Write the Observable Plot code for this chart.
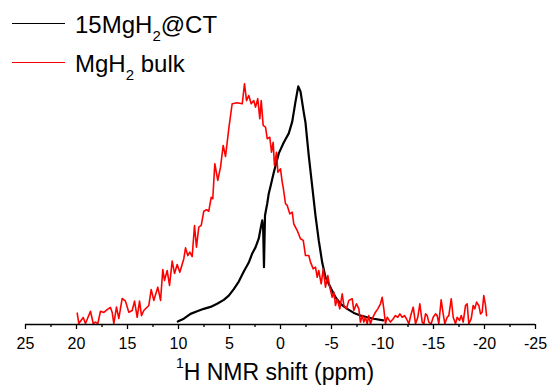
<!DOCTYPE html>
<html>
<head>
<meta charset="utf-8">
<script src="https://cdn.jsdelivr.net/npm/d3@7"></script>
<script src="https://cdn.jsdelivr.net/npm/@observablehq/plot@0.6"></script>
<style>
  body { margin: 0; background: white; font-family: "Liberation Sans", Arial, sans-serif; color: black; }
  #wrap { width: 550px; height: 385px; position: relative; overflow: hidden; }
  #legend { position: relative; height: 75px; }
  .sw { position: absolute; left: 12px; width: 53px; height: 1.6px; }
  .lt { position: absolute; left: 75px; font-size: 24px; line-height: 24px; white-space: nowrap; }
  .lt sub { font-size: 15px; vertical-align: -8px; line-height: 0; }
  #title { position: absolute; left: 0; width: 550px; top: 360.5px; text-align: center; font-size: 23px; line-height: 23px; white-space: nowrap; }
  #title sup { font-size: 14px; vertical-align: 12px; line-height: 0; }
  svg { display: block; }
</style>
</head>
<body>
<div id="wrap">
  <div id="legend"></div>
  <div id="chart"></div>
  <div id="title"><sup>1</sup>H NMR shift (ppm)</div>
</div>
<script>
// Series names / colours
const seriesNames = ["15MgH2@CT", "MgH2 bulk"];
const seriesColors = ["#000000", "#ff0000"];

// x axis ticks (ppm)
const majorTicks = [25, 20, 15, 10, 5, 0, -5, -10, -15, -20, -25];
const minorTicks = [22.5, 17.5, 12.5, 7.5, 2.5, -2.5, -7.5, -12.5, -17.5, -22.5];

// 15MgH2@CT spectrum: [ppm, normalized intensity]
const ctSpectrum = [
  [10.07,0.012],[9.48,0.024],[8.82,0.044],[8.17,0.055],[7.52,0.065],[6.86,0.073],
  [6.21,0.086],[5.56,0.102],[5.07,0.120],[4.58,0.147],[4.09,0.178],[3.60,0.220],
  [3.11,0.257],[2.77,0.295],[2.45,0.320],[2.13,0.357],[1.91,0.407],[1.79,0.432],
  [1.70,0.398],[1.62,0.238],[1.52,0.452],[1.30,0.502],[1.15,0.544],[0.98,0.573],
  [0.66,0.631],[0.17,0.710],[-0.32,0.755],[-0.81,0.793],[-1.15,0.842],[-1.47,0.925],
  [-1.74,0.988],[-1.96,0.967],[-2.28,0.880],[-2.45,0.838],[-2.77,0.701],[-3.11,0.573],
  [-3.43,0.452],[-3.75,0.349],[-4.09,0.257],[-4.41,0.196],[-4.90,0.154],[-5.39,0.113],
  [-5.88,0.086],[-6.54,0.065],[-7.19,0.048],[-7.84,0.037],[-8.50,0.030],[-9.15,0.024],
  [-10.07,0.017]
];

// MgH2 bulk spectrum: [ppm, normalized intensity]
const bulkSpectrum = [
  [19.93,0.047],[19.77,0.004],[19.34,0.029],[19.12,0.004],[18.63,0.055],[18.36,0.004],
  [18.14,0.010],[17.91,0.004],[17.65,0.055],[17.32,0.050],[16.99,0.062],[16.67,0.071],
  [16.50,0.050],[16.34,0.004],[16.08,0.072],[15.85,0.025],[15.52,0.108],[15.20,0.097],
  [14.87,0.051],[14.54,0.058],[14.31,0.097],[14.05,0.030],[13.82,0.097],[13.63,0.037],
  [13.40,0.058],[12.91,0.079],[12.68,0.145],[12.42,0.100],[12.03,0.155],[11.76,0.100],
  [11.54,0.228],[11.37,0.183],[11.11,0.224],[10.88,0.162],[10.62,0.263],[10.39,0.212],
  [10.13,0.249],[9.87,0.217],[9.48,0.273],[9.31,0.318],[9.09,0.286],[8.89,0.300],
  [8.66,0.282],[8.43,0.411],[8.24,0.321],[8.01,0.404],[7.77,0.411],[7.52,0.470],
  [7.25,0.476],[7.03,0.470],[6.79,0.528],[6.64,0.522],[6.44,0.667],[6.15,0.598],
  [5.88,0.653],[5.62,0.743],[5.39,0.697],[5.07,0.813],[4.74,0.916],[4.25,0.920],
  [3.75,0.916],[3.53,0.999],[3.33,0.929],[3.11,0.950],[2.87,0.916],[2.62,0.929],
  [2.45,0.902],[2.23,0.937],[2.03,0.854],[1.89,0.929],[1.70,0.826],[1.47,0.819],
  [1.30,0.771],[1.05,0.777],[0.88,0.715],[0.72,0.756],[0.59,0.660],[0.39,0.715],
  [0.26,0.632],[0.00,0.646],[-0.17,0.590],[-0.26,0.570],[-0.49,0.501],[-0.66,0.494],
  [-0.91,0.459],[-1.15,0.466],[-1.30,0.418],[-1.64,0.390],[-1.96,0.356],[-2.23,0.349],
  [-2.45,0.286],[-2.77,0.286],[-2.94,0.259],[-3.21,0.231],[-3.43,0.238],[-3.60,0.196],
  [-3.75,0.224],[-3.99,0.169],[-4.19,0.231],[-4.41,0.155],[-4.64,0.203],[-4.83,0.155],
  [-5.07,0.113],[-5.23,0.134],[-5.39,0.079],[-5.56,0.107],[-5.81,0.065],[-6.05,0.127],
  [-6.21,0.079],[-6.47,0.065],[-6.70,0.100],[-7.03,0.107],[-7.19,0.058],[-7.45,0.086],
  [-7.68,0.065],[-7.84,0.010],[-8.01,0.037],[-8.17,0.010],[-8.33,0.030],[-8.50,0.003],
  [-8.66,0.037],[-8.82,0.003],[-8.99,0.024],[-9.31,0.051],[-9.54,0.065],[-9.80,0.086],
  [-9.97,0.113],[-10.13,0.065],[-10.29,0.003],[-10.46,0.030],[-10.78,0.010],[-11.05,0.024],
  [-11.27,0.037],[-11.50,0.030],[-11.70,0.044],[-11.93,0.030],[-12.16,0.037],[-12.35,0.024],
  [-12.58,0.003],[-12.81,0.044],[-13.01,0.072],[-13.24,0.003],[-13.46,0.030],[-13.66,0.086],
  [-13.89,0.010],[-14.05,0.003],[-14.22,0.044],[-14.38,0.037],[-14.54,0.010],[-14.77,0.003],
  [-14.97,0.030],[-15.20,0.044],[-15.36,0.037],[-15.52,0.003],[-15.75,0.102],[-15.95,0.044],
  [-16.11,0.003],[-16.34,0.030],[-16.50,0.037],[-16.74,0.107],[-16.93,0.030],[-17.16,0.003],
  [-17.32,0.030],[-17.55,0.017],[-17.72,0.037],[-17.91,0.010],[-18.14,0.079],[-18.30,0.086],
  [-18.46,0.003],[-18.70,0.024],[-18.89,0.079],[-19.05,0.065],[-19.22,0.093],[-19.44,0.079],
  [-19.61,0.044],[-19.77,0.051],[-19.93,0.120],[-20.10,0.079],[-20.20,0.037]
];

// Legend (HTML, above the plot)
const legend = document.getElementById("legend");
const legendHtml = [
  '15MgH<sub>2</sub>@CT',
  'MgH<sub>2</sub> bulk'
];
const swTops = [22.5, 61.5];
const txtTops = [12.7, 52.4];
seriesNames.forEach((name, i) => {
  const sw = document.createElement("div");
  sw.className = "sw";
  sw.style.top = swTops[i] + "px";
  sw.style.background = seriesColors[i];
  legend.appendChild(sw);
  const t = document.createElement("div");
  t.className = "lt";
  t.style.top = txtTops[i] + "px";
  t.innerHTML = legendHtml[i];
  legend.appendChild(t);
});

const toRows = arr => arr.map(([ppm, v]) => ({ppm, v}));

const chart = Plot.plot({
  width: 550,
  height: 281,
  marginLeft: 25,
  marginRight: 15,
  marginTop: 8,
  marginBottom: 32,
  style: {fontFamily: "Liberation Sans, Arial, sans-serif", fontSize: "16px", color: "black", background: "white", overflow: "visible"},
  x: {domain: [25, -25]},
  y: {domain: [0, 1], axis: null},
  marks: [
    Plot.line(toRows(ctSpectrum), {x: "ppm", y: "v", stroke: seriesColors[0], strokeWidth: 2.2}),
    Plot.line(toRows(bulkSpectrum), {x: "ppm", y: "v", stroke: seriesColors[1], strokeWidth: 1.6}),
    Plot.ruleY([0], {stroke: "black", strokeWidth: 1.3}),
    Plot.axisX({ticks: minorTicks, tickSize: 3, tickFormat: () => "", strokeWidth: 1.3, label: null}),
    Plot.axisX({ticks: majorTicks, tickSize: 5, tickPadding: 8, tickFormat: d => String(d), strokeWidth: 1.3, label: null, fontSize: 16})
  ]
});
document.getElementById("chart").appendChild(chart);
</script>
</body>
</html>
